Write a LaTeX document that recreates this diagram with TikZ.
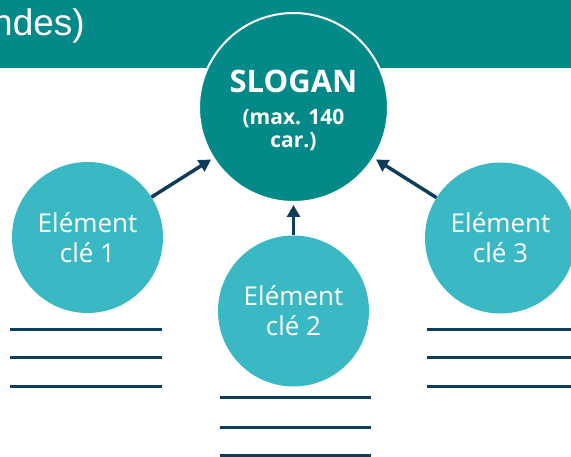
\documentclass[tikz,border=0pt]{standalone}
\usepackage{fontspec}
\setmainfont{Open Sans}
\newfontfamily\bannerfont{Liberation Sans}
\usetikzlibrary{arrows.meta}
\definecolor{teal1}{RGB}{4,137,137}
\definecolor{light1}{RGB}{58,185,196}
\definecolor{navy1}{RGB}{14,61,92}
\begin{document}
\begin{tikzpicture}[x=1pt,y=-1pt,
  elem/.style={circle,fill=light1,minimum size=151pt,inner sep=0pt,text=white,align=center,font=\fontsize{26}{30}\selectfont},
  slogantxt/.style={anchor=base,text=white,inner sep=0pt},
  link/.style={draw=navy1,line width=3.5pt,-{Triangle[length=12pt,width=13pt]}},
  rulestyle/.style={draw=navy1,line width=3pt}]
\useasboundingbox (0,0) rectangle (571,457);
\clip (0,0) rectangle (571,457);
\fill[teal1] (0,0) rectangle (571,68);
\node[anchor=base east,text=white,font=\bannerfont\fontsize{37}{37}\selectfont,inner sep=0pt] (title) at (85,36) {ndes)};
\node[circle,fill=teal1,draw=white,line width=2pt,minimum size=189pt,inner sep=0pt] (s) at (293.5,107.5) {};
\node[slogantxt,font=\bfseries\fontsize{31}{31}\selectfont] (s1) at (293.5,93) {SLOGAN};
\node[slogantxt,font=\bfseries\fontsize{21}{21}\selectfont] (s2) at (293.5,125) {(max. 140};
\node[slogantxt,font=\bfseries\fontsize{21}{21}\selectfont] (s3) at (293.5,148) {car.)};
\node[elem] (e1) at (87.5,237.5) {Elément\\clé 1};
\node[elem] (e2) at (293.5,311) {Elément\\clé 2};
\node[elem] (e3) at (500.5,238) {Elément\\clé 3};
\draw[link,shorten >=2pt] (e1) -- (s);
\draw[link,shorten >=2pt] (e2) -- (s);
\draw[link,shorten >=2pt] (e3) -- (s);
\foreach \y in {330,358,387} {
  \draw[rulestyle] (10,\y) -- (162,\y);
  \draw[rulestyle] (427,\y) -- (580,\y);
}
\foreach \y in {398,427,455} {
  \draw[rulestyle] (220,\y) -- (371,\y);
}
\end{tikzpicture}
\end{document}
